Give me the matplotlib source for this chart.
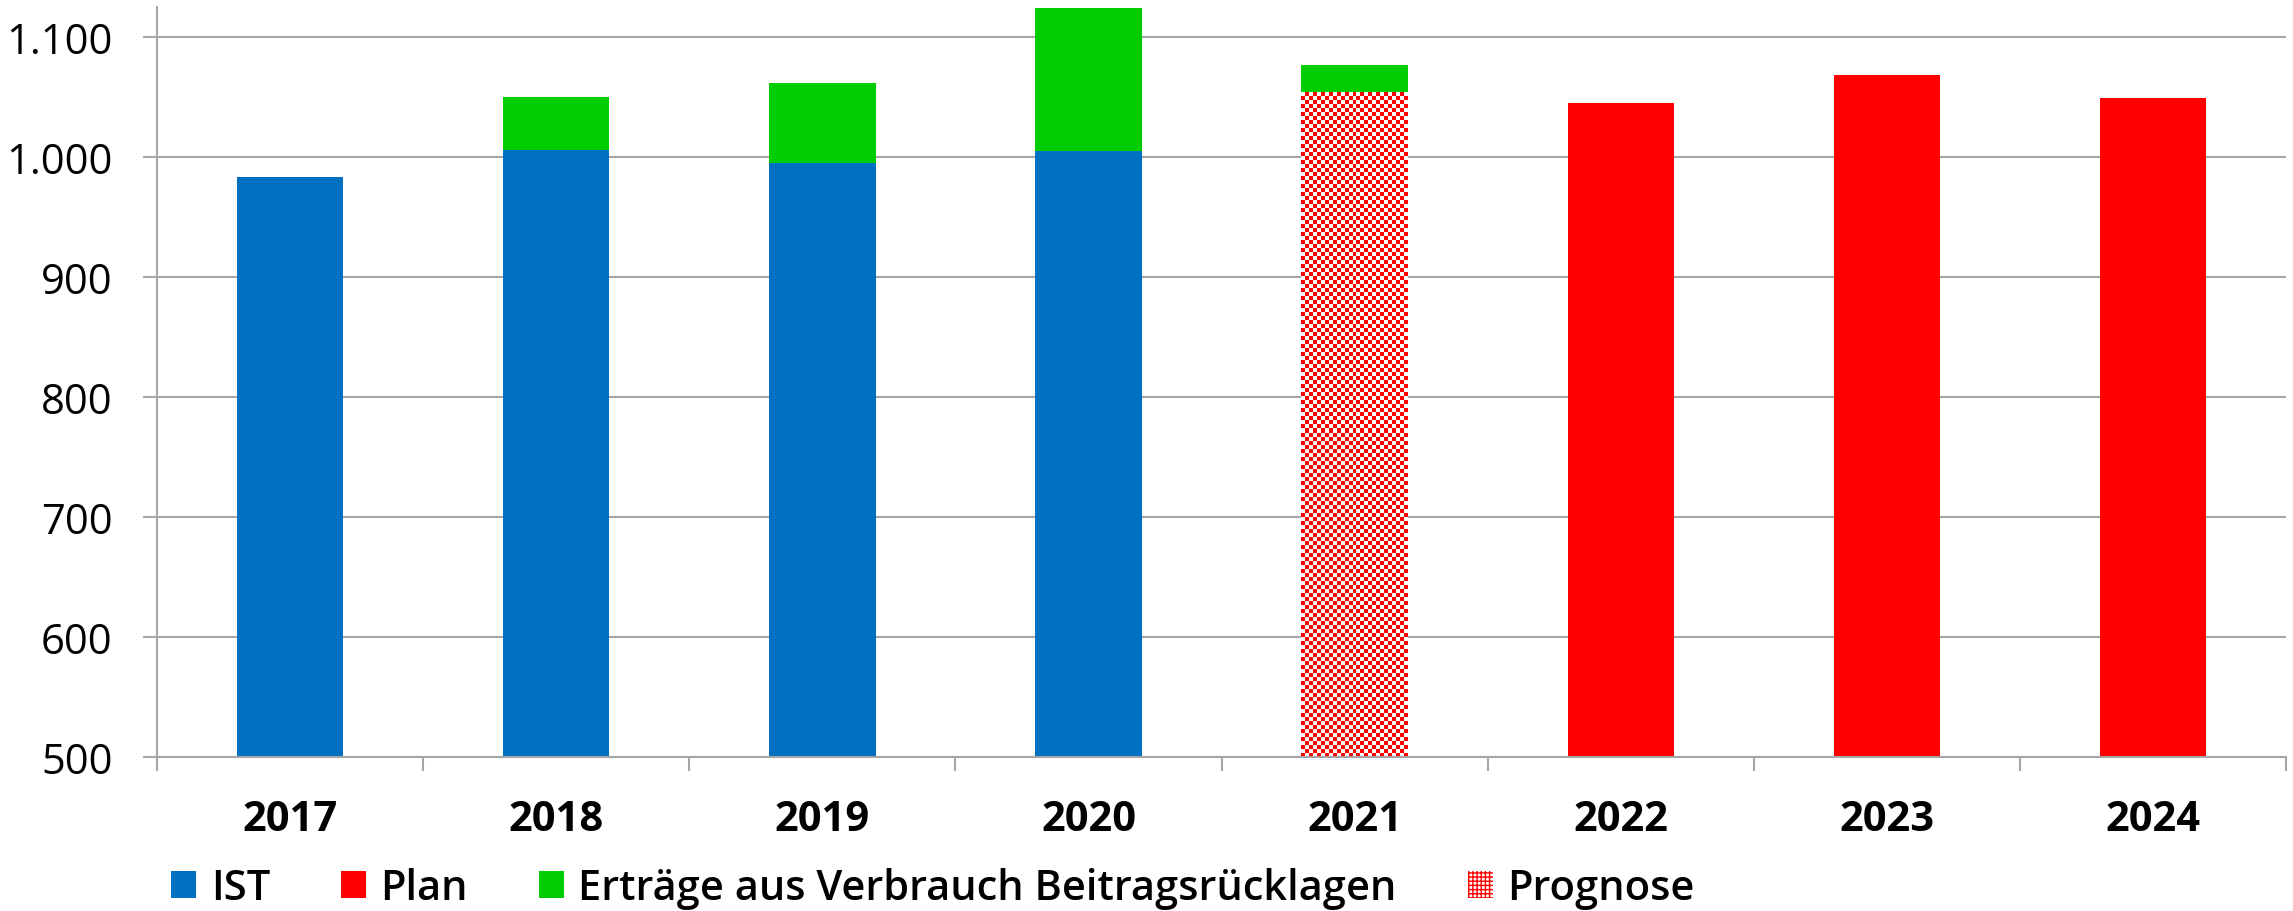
import numpy as np
import matplotlib.pyplot as plt
from matplotlib.colors import ListedColormap
from matplotlib.patches import Patch

plt.rcParams['font.family'] = ['Open Sans', 'DejaVu Sans']

# Daten (Mio. Euro)
jahre = ['2017', '2018', '2019', '2020', '2021', '2022', '2023', '2024']
ist = [983, 1006, 995, 1005, 0, 0, 0, 0]
prognose = [0, 0, 0, 0, 1054, 0, 0, 0]
plan = [0, 0, 0, 0, 0, 1045, 1068, 1049]
ertraege = [0, 44, 67, 119, 23, 0, 0, 0]

basis = 500
blau = '#0070C0'
rot = '#FF0000'
gruen = '#00CC00'
grau = '#A6A6A6'

fig = plt.figure(figsize=(22.93, 9.12), dpi=100)
ax = fig.add_axes([0.0685, 0.1689, 0.9285, 0.8223])

x = np.arange(len(jahre))
w = 0.4

ist_h = [v - basis if v else 0 for v in ist]
plan_h = [v - basis if v else 0 for v in plan]
prog_h = [v - basis if v else 0 for v in prognose]
unten = [max(a, b, c) for a, b, c in zip(ist, prognose, plan)]

ax.bar(x, ist_h, w, bottom=basis, color=blau, zorder=2)
ax.bar(x, plan_h, w, bottom=basis, color=rot, zorder=2)
prog_bars = ax.bar(x, prog_h, w, bottom=basis, color='none', zorder=2)
ax.bar(x, ertraege, w, bottom=unten, color=gruen, zorder=2)

ax.set_xlim(-0.5, len(jahre) - 0.5)
ax.set_ylim(500, 1125)

# Schachbrettmuster fuer Prognose
fig.canvas.draw()
for b in prog_bars:
    if b.get_height() <= 0:
        continue
    x0, y0 = b.get_x(), b.get_y()
    x1, y1 = x0 + b.get_width(), y0 + b.get_height()
    p0 = ax.transData.transform((x0, y0))
    p1 = ax.transData.transform((x1, y1))
    cols = max(1, int(round(abs(p1[0] - p0[0]) / 4)))
    rows = max(1, int(round(abs(p1[1] - p0[1]) / 4)))
    checker = np.indices((rows, cols)).sum(axis=0) % 2
    im = ax.imshow(checker, extent=(x0, x1, y0, y1), cmap=ListedColormap(['white', rot]),
                   interpolation='nearest', aspect='auto', zorder=2)
    im.set_clip_path(b)

ax.set_xlim(-0.5, len(jahre) - 0.5)
ax.set_ylim(500, 1125)

ax.set_yticks(range(500, 1101, 100))
ax.set_yticklabels([f'{v:,}'.replace(',', '.') for v in range(500, 1101, 100)], fontsize=30)
ax.yaxis.grid(True, color=grau, linewidth=1.5, zorder=0)
ax.set_axisbelow(True)

ax.set_xticks(x)
ax.set_xticklabels(jahre, fontsize=30, fontweight='bold')
ax.tick_params(axis='x', length=0, pad=30)
ax.set_xticks(np.arange(-0.5, len(jahre)), minor=True)
ax.tick_params(axis='x', which='minor', length=10, width=1.5, color=grau)
ax.tick_params(axis='y', length=10, width=1.5, color=grau, pad=22)

for s in ['top', 'right']:
    ax.spines[s].set_visible(False)
for s in ['left', 'bottom']:
    ax.spines[s].set_color(grau)
    ax.spines[s].set_linewidth(1.5)

handles = [
    Patch(facecolor=blau),
    Patch(facecolor=rot),
    Patch(facecolor=gruen),
    Patch(facecolor='white', edgecolor=rot, hatch='++++', linewidth=0),
]
labels = ['IST', 'Plan', 'Erträge aus Verbrauch Beitragsrücklagen', 'Prognose']
fig.legend(handles, labels, loc='center left', bbox_to_anchor=(0.0746, 0.025),
           ncol=4, frameon=False, prop={'weight': 'semibold', 'size': 30},
           handlelength=0.6, handleheight=0.6, handletextpad=0.35,
           columnspacing=1.7, borderpad=0, borderaxespad=0)

fig.savefig('out.png', dpi=100)
